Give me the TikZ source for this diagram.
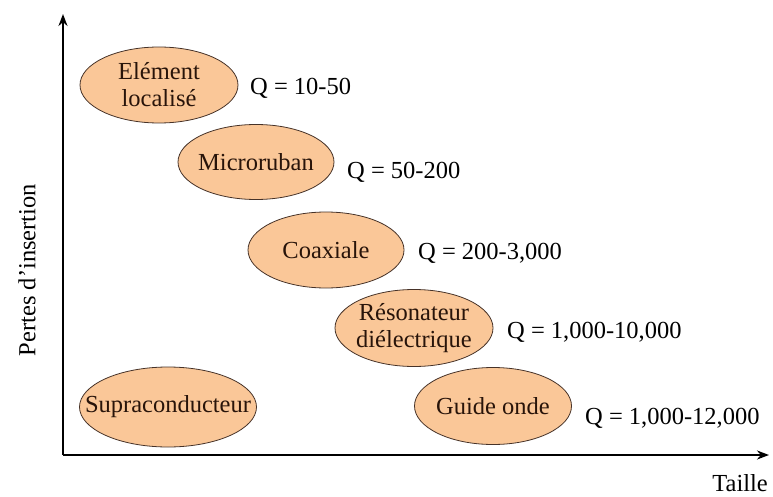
\documentclass[tikz,border=0pt]{standalone}
\usepackage{fontspec}
\setmainfont{Liberation Serif}
\usetikzlibrary{arrows.meta,backgrounds}
\definecolor{ovfill}{RGB}{250,199,152}
\definecolor{ovline}{RGB}{70,50,40}
\definecolor{ovtext}{RGB}{40,20,10}
\begin{document}
\begin{tikzpicture}[x=1pt,y=-1pt,
  every node/.style={font=\fontsize{24.5}{27}\selectfont},
  ovtxt/.style={text=ovtext, inner sep=0pt, align=center},
  ovshape/.style={draw=ovline, line width=0.8pt, fill=ovfill},
  qlab/.style={anchor=west, inner sep=0pt},
  axis/.style={line width=2pt, -{Stealth[length=12pt,width=9pt]}}]
\useasboundingbox (0,0) rectangle (773,497);
\coordinate (O) at (63,455);
\coordinate (Ytop) at (63,14);
\coordinate (Xend) at (769,455);
\draw[axis] (O) -- (Ytop);
\draw[axis] (O) -- (Xend);
\node[ovtxt] (el) at (159,85) {Elément\\localisé};
\node[ovtxt] (mi) at (256,162) {Microruban};
\node[ovtxt] (co) at (326,250) {Coaxiale};
\node[ovtxt] (re) at (414,328) {Résonateur\\diélectrique};
\node[ovtxt] (gu) at (493,406) {Guide onde};
\node[ovtxt] (su) at (168,407) {Supraconducteur};
\begin{scope}[on background layer]
\path[ovshape] (el.center) ellipse [x radius=79, y radius=38];
\path[ovshape] (mi.center) ellipse [x radius=78, y radius=37.5];
\path[ovshape] (co.center) ellipse [x radius=78, y radius=38];
\path[ovshape] (re.center) ellipse [x radius=79, y radius=38.5];
\path[ovshape] (gu.center) ellipse [x radius=78.5, y radius=38.5];
\path[ovshape] (su.center) ellipse [x radius=88.5, y radius=40];
\end{scope}
\node[qlab] (q1) at (250,88) {Q = 10-50};
\node[qlab] (q2) at (347,172) {Q = 50-200};
\node[qlab] (q3) at (418,253) {Q = 200-3,000};
\node[qlab] (q4) at (507,332) {Q = 1,000-10,000};
\node[qlab] (q5) at (585,418) {Q = 1,000-12,000};
\node[anchor=east, inner sep=0pt] (tx) at (768,483) {Taille};
\node[rotate=90, inner sep=0pt] (ty) at (27,270) {Pertes d’insertion};
\end{tikzpicture}
\end{document}
